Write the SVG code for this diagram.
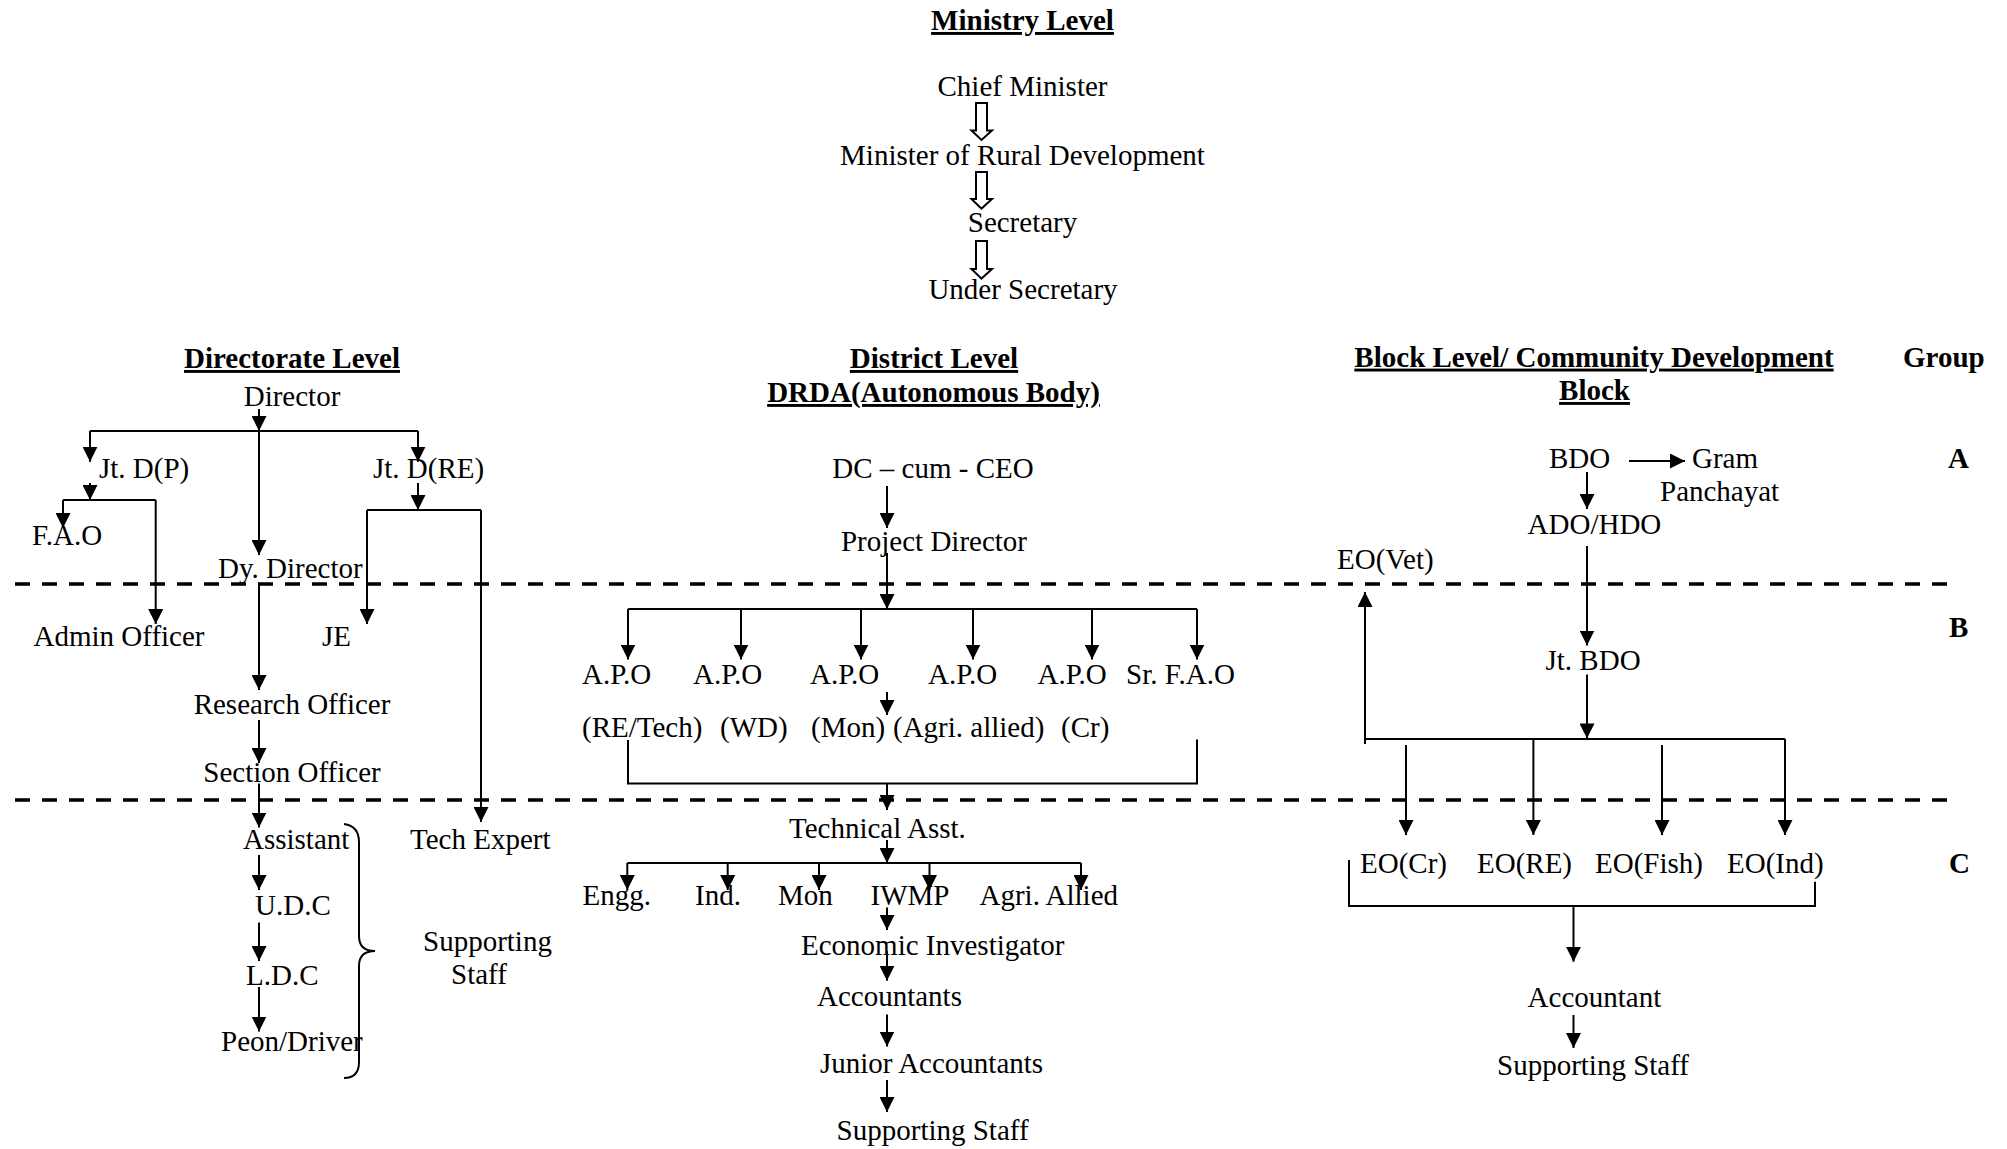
<svg xmlns="http://www.w3.org/2000/svg" width="2007" height="1149" viewBox="0 0 2007 1149">
<defs>
<style>
text{font-family:"Liberation Serif","Times New Roman",serif;font-size:29px;fill:#000}
.h{font-weight:bold;text-decoration:underline}
.b{font-weight:bold}
.m{text-anchor:middle}
.c line,.c path,.c polyline{stroke:#000;stroke-width:2;fill:none}
.a{marker-end:url(#ah)}
.dash{stroke:#000;stroke-width:3.5;stroke-dasharray:15 12;fill:none}
.hollow{fill:#fff;stroke:#000;stroke-width:1.6}
</style>
<marker id="ah" viewBox="0 0 15 15" refX="15" refY="7.5" markerWidth="15" markerHeight="15" markerUnits="userSpaceOnUse" orient="auto">
<path d="M0,0 L15,7.5 L0,15 Z" fill="#000"/>
</marker>
</defs>
<rect width="2007" height="1149" fill="#fff"/>

<!-- group separators -->
<g id="separators">
<line class="dash" x1="15" y1="584" x2="1948" y2="584"/>
<line class="dash" x1="15" y1="800" x2="1948" y2="800"/>
</g>

<!-- Ministry level -->
<g id="ministry">
<text class="h m" x="1022.5" y="30">Ministry Level</text>
<g id="n-chief-minister"><text class="m" x="1022.5" y="96">Chief Minister</text></g>
<g id="n-minister-rd"><text class="m" x="1022.5" y="165">Minister of Rural Development</text></g>
<g id="n-secretary"><text class="m" x="1022.5" y="231.5">Secretary</text></g>
<g id="n-under-secretary"><text class="m" x="1023" y="298.5">Under Secretary</text></g>
</g>

<!-- Directorate level -->
<g id="directorate">
<text class="h m" x="292" y="368">Directorate Level</text>
<g id="n-director"><text class="m" x="292" y="406">Director</text></g>
<g id="n-jtdp"><text x="99" y="478">Jt. D(P)</text></g>
<g id="n-jtdre"><text x="373" y="478">Jt. D(RE)</text></g>
<g id="n-fao"><text x="32" y="545">F.A.O</text></g>
<g id="n-dydirector"><text x="218" y="578">Dy. Director</text></g>
<g id="n-admin"><text x="33.5" y="646">Admin Officer</text></g>
<g id="n-je"><text x="322" y="646">JE</text></g>
<g id="n-research"><text class="m" x="292" y="714">Research Officer</text></g>
<g id="n-section"><text class="m" x="292" y="781.6">Section Officer</text></g>
<g id="n-assistant"><text x="243" y="849">Assistant</text></g>
<g id="n-udc"><text x="255" y="915">U.D.C</text></g>
<g id="n-ldc"><text x="246" y="984.5">L.D.C</text></g>
<g id="n-peon"><text x="221" y="1051">Peon/Driver</text></g>
<g id="n-techexpert"><text x="410" y="849">Tech Expert</text></g>
<g id="n-supporting-dir"><text x="423" y="951">Supporting</text><text x="451" y="984">Staff</text></g>
</g>

<!-- District level -->
<g id="district">
<text class="h m" x="934" y="368">District Level</text>
<text class="h m" x="933.5" y="402">DRDA(Autonomous Body)</text>
<g id="n-dc"><text class="m" x="933" y="477.6">DC – cum - CEO</text></g>
<g id="n-pd"><text class="m" x="934" y="551">Project Director</text></g>
<g id="n-apo1"><text x="582" y="684">A.P.O</text><text x="582" y="737">(RE/Tech)</text></g>
<g id="n-apo2"><text x="693" y="684">A.P.O</text><text x="720" y="737">(WD)</text></g>
<g id="n-apo3"><text x="810" y="684">A.P.O</text><text x="811" y="737">(Mon)</text></g>
<g id="n-apo4"><text x="928" y="684">A.P.O</text><text x="893" y="737">(Agri. allied)</text></g>
<g id="n-apo5"><text x="1037.5" y="684">A.P.O</text><text x="1061" y="737">(Cr)</text></g>
<g id="n-srfao"><text x="1126" y="684">Sr. F.A.O</text></g>
<g id="n-techasst"><text x="789" y="838">Technical Asst.</text></g>
<g id="n-engg"><text x="582.5" y="905">Engg.</text></g>
<g id="n-ind"><text x="695" y="905">Ind.</text></g>
<g id="n-mon"><text x="778" y="905">Mon</text></g>
<g id="n-iwmp"><text x="870.5" y="905">IWMP</text></g>
<g id="n-agri"><text x="979.5" y="905">Agri. Allied</text></g>
<g id="n-econ"><text x="801" y="955">Economic Investigator</text></g>
<g id="n-accts"><text x="817" y="1006">Accountants</text></g>
<g id="n-jraccts"><text x="820" y="1073">Junior Accountants</text></g>
<g id="n-supp-dist"><text x="836.6" y="1140">Supporting Staff</text></g>
</g>

<!-- Block level -->
<g id="block">
<text class="h m" x="1594" y="366.6">Block Level/ Community Development</text>
<text class="h m" x="1594.5" y="400">Block</text>
<g id="n-bdo"><text x="1549" y="467.7">BDO</text></g>
<g id="n-gram"><text x="1692" y="467.7">Gram</text><text x="1660" y="500.6">Panchayat</text></g>
<g id="n-ado"><text x="1527.6" y="534">ADO/HDO</text></g>
<g id="n-eovet"><text x="1337" y="569">EO(Vet)</text></g>
<g id="n-jtbdo"><text x="1545.5" y="670">Jt. BDO</text></g>
<g id="n-eocr"><text x="1360" y="873">EO(Cr)</text></g>
<g id="n-eore"><text x="1477" y="873">EO(RE)</text></g>
<g id="n-eofish"><text x="1595" y="873">EO(Fish)</text></g>
<g id="n-eoind"><text x="1727" y="873">EO(Ind)</text></g>
<g id="n-accountant"><text x="1527.6" y="1007">Accountant</text></g>
<g id="n-supp-block"><text x="1497" y="1075">Supporting Staff</text></g>
</g>

<!-- Group column -->
<g id="groups">
<text class="b" x="1903" y="366.6">Group</text>
<text class="b" x="1948" y="467.7">A</text>
<text class="b" x="1949" y="636.7">B</text>
<text class="b" x="1949" y="873">C</text>
</g>

<!-- connectors -->
<g id="connectors" class="c">
<!-- ministry hollow arrows -->
<path class="hollow" d="M976,103 H987 V130.5 H992 L981.5,140 L971.5,130.5 H976 Z"/>
<path class="hollow" d="M976,172 H987 V199 H992 L981.5,208.6 L971.5,199 H976 Z"/>
<path class="hollow" d="M976,241 H987 V269 H992 L981.5,278.6 L971.5,269 H976 Z"/>

<!-- directorate -->
<line class="a" x1="259" y1="409" x2="259" y2="431"/>
<line x1="90" y1="431" x2="418" y2="431"/>
<line class="a" x1="90" y1="431" x2="90" y2="461.7"/>
<line class="a" x1="418" y1="431" x2="418" y2="461.7"/>
<line class="a" x1="259" y1="431" x2="259" y2="555"/>
<line class="a" x1="90" y1="483" x2="90" y2="500"/>
<line x1="63" y1="500" x2="155.7" y2="500"/>
<line class="a" x1="63" y1="500" x2="63" y2="528"/>
<line class="a" x1="155.7" y1="500" x2="155.7" y2="624"/>
<line class="a" x1="418" y1="483" x2="418" y2="510"/>
<line x1="367" y1="510" x2="481" y2="510"/>
<line class="a" x1="367" y1="510" x2="367" y2="624"/>
<line class="a" x1="481" y1="510" x2="481" y2="822"/>
<line class="a" x1="259" y1="582.5" x2="259" y2="690"/>
<line class="a" x1="259" y1="720" x2="259" y2="763"/>
<line class="a" x1="259" y1="783.5" x2="259" y2="827.5"/>
<line class="a" x1="259" y1="855" x2="259" y2="890"/>
<line class="a" x1="259" y1="922.5" x2="259" y2="961"/>
<line class="a" x1="259" y1="987" x2="259" y2="1031.5"/>
<path d="M344,824 Q359,826 359,842 L359,936 Q359,951 375,951 Q359,951 359,966 L359,1062 Q359,1078 344,1078"/>

<!-- district -->
<line class="a" x1="887" y1="486" x2="887" y2="528"/>
<line class="a" x1="887" y1="553" x2="887" y2="609"/>
<line x1="628" y1="609" x2="1197" y2="609"/>
<line class="a" x1="628" y1="609" x2="628" y2="659.5"/>
<line class="a" x1="741" y1="609" x2="741" y2="659.5"/>
<line class="a" x1="861" y1="609" x2="861" y2="659.5"/>
<line class="a" x1="973" y1="609" x2="973" y2="659.5"/>
<line class="a" x1="1092" y1="609" x2="1092" y2="659.5"/>
<line class="a" x1="1197" y1="609" x2="1197" y2="659.5"/>
<line class="a" x1="887" y1="692" x2="887" y2="715"/>
<polyline points="628,740 628,783.5 1197,783.5 1197,739.6"/>
<line class="a" x1="887" y1="783.5" x2="887" y2="810"/>
<line class="a" x1="887" y1="840" x2="887" y2="863"/>
<line x1="627.3" y1="863" x2="1081" y2="863"/>
<line class="a" x1="627.3" y1="863" x2="627.3" y2="890"/>
<line class="a" x1="727.7" y1="863" x2="727.7" y2="890"/>
<line class="a" x1="819" y1="863" x2="819" y2="890"/>
<line class="a" x1="929.5" y1="863" x2="929.5" y2="890"/>
<line class="a" x1="1081" y1="863" x2="1081" y2="890"/>
<line class="a" x1="887" y1="907.5" x2="887" y2="930"/>
<line class="a" x1="887" y1="951" x2="887" y2="980.7"/>
<line class="a" x1="887" y1="1014.5" x2="887" y2="1046.5"/>
<line class="a" x1="887" y1="1080" x2="887" y2="1112"/>

<!-- block -->
<line class="a" x1="1629" y1="461" x2="1685" y2="461"/>
<line class="a" x1="1587" y1="472" x2="1587" y2="509"/>
<line class="a" x1="1587" y1="546" x2="1587" y2="645.5"/>
<line class="a" x1="1587" y1="674.6" x2="1587" y2="738.4"/>
<line x1="1365" y1="739" x2="1785" y2="739"/>
<line class="a" x1="1365" y1="744" x2="1365" y2="592"/>
<line class="a" x1="1406" y1="745" x2="1406" y2="835"/>
<line class="a" x1="1533.4" y1="739" x2="1533.4" y2="835"/>
<line class="a" x1="1662" y1="745" x2="1662" y2="835"/>
<line class="a" x1="1785" y1="739" x2="1785" y2="835"/>
<polyline points="1349,860 1349,906 1815,906 1815,881.7"/>
<line class="a" x1="1573.5" y1="906" x2="1573.5" y2="961.7"/>
<line class="a" x1="1573.5" y1="1015" x2="1573.5" y2="1048"/>
</g>
</svg>
